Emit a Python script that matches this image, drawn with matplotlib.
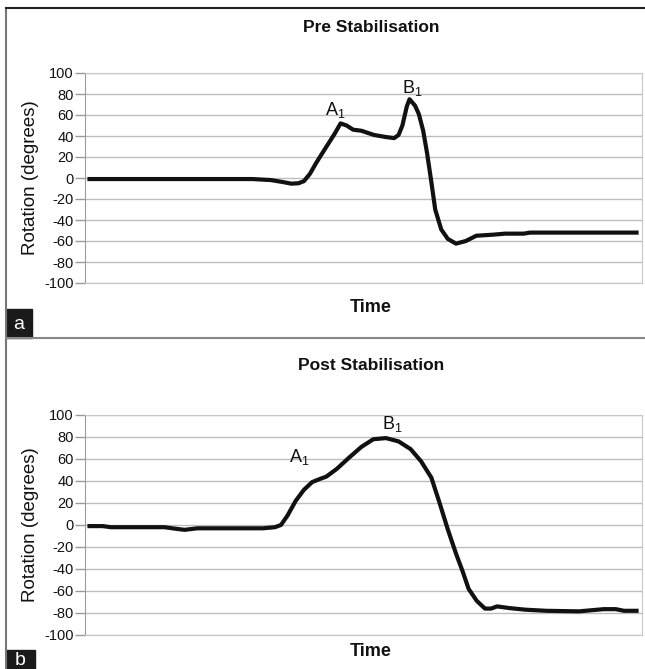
import matplotlib.pyplot as plt
from matplotlib.lines import Line2D
from matplotlib.patches import Rectangle

plt.rcParams['font.family'] = ['Liberation Sans', 'DejaVu Sans']
plt.rcParams['axes.unicode_minus'] = False

# panel a - pre stabilisation
pre_t = [0, 10, 20, 29.8, 33.2, 35.5, 36.9, 38.2, 39.2, 40.3, 41.4, 42.6, 43.7,
         44.8, 45.9, 47.0, 48.2, 49.7, 52.0, 54.2, 55.7, 56.5, 57.2, 58.0, 58.5,
         59.5, 60.2, 61.0, 61.7, 62.5, 63.2, 64.3, 65.5, 67.0, 68.8, 70.7, 73.7,
         76.0, 79.4, 80.5, 90, 100]
pre_v = [-1, -1, -1, -1, -2, -4, -5.4, -5, -3, 4, 14, 24, 33,
         42, 52, 50, 46, 45, 41, 39, 38, 41, 50, 68, 75,
         69, 61, 45, 24, -4, -30, -49, -58, -62.5, -60, -55, -54,
         -53, -53, -52, -52, -52]

# panel b - post stabilisation
post_t = [0, 2.4, 3.9, 13.7, 15.9, 17.4, 19.7, 31.7, 33.9, 35.0, 36.2, 37.7,
          39.2, 40.7, 42.2, 43.3, 45.2, 47.4, 49.7, 51.9, 54.2, 56.5, 58.7,
          60.6, 62.5, 64.0, 65.5, 67.0, 68.2, 69.3, 70.8, 72.3, 73.4, 74.5,
          76.7, 79.7, 83.5, 89.5, 94.0, 96.2, 97.7, 100]
post_v = [-1, -1, -2, -2, -3.5, -4.4, -3, -3, -2, 0, 8.6, 22,
          32, 39, 42, 44, 51, 61, 71, 78, 79, 76, 69,
          58, 43, 20, -4, -26, -42, -58, -69, -76, -76, -74,
          -75.5, -77, -78, -78.5, -76.5, -76.5, -78, -78]

titles = ['Pre Stabilisation', 'Post Stabilisation']
panel_letters = ['a', 'b']
yticks = list(range(-100, 101, 20))
# annotation positions (t, value)
pre_labels = [('A', 45.0, 65), ('B', 59.0, 86)]
post_labels = [('A', 38.4, 61.5), ('B', 55.3, 92)]

W, H = 645, 669
fig = plt.figure(figsize=(W / 100, H / 100), dpi=100)


def fx(px):
    return px / W


def fy(py):
    return 1 - py / H


def draw_panel(top, bottom, t, v, title, labels, title_y, time_y):
    ax = fig.add_axes([fx(85), fy(bottom), fx(642 - 85), (bottom - top) / H])
    ax.plot(t, v, color='#111111', lw=3.0, solid_joinstyle='round')
    ax.set_xlim(-0.82, 101.0)
    ax.set_ylim(-100, 100)
    ax.set_yticks(yticks)
    ax.set_xticks([])
    ax.grid(axis='y', color='#bdbdbd', lw=1.0)
    ax.set_axisbelow(True)
    for s in ['top', 'bottom', 'right']:
        ax.spines[s].set_color('#c8c8c8')
    ax.spines['left'].set_color('#9a9a9a')
    ax.tick_params(axis='y', length=7, width=1, color='#9a9a9a', pad=1,
                   labelsize=10.5, labelcolor='#111111')
    for name, xt, yv in labels:
        ax.text(xt, yv, f'{name}$_\\mathregular{{1}}$', fontsize=13,
                ha='center', va='center', color='#111111')
    fig.text(fx(31), fy((top + bottom) / 2), 'Rotation (degrees)', rotation=90,
             fontsize=13.5, ha='center', va='center', color='#111111')
    fig.text(fx(371), fy(title_y), title, fontsize=12.5, fontweight='bold',
             ha='center', va='center', color='#111111')
    fig.text(fx(371), fy(time_y), 'Time', fontsize=13, fontweight='bold',
             ha='center', va='center', color='#111111')
    return ax


draw_panel(73, 283, pre_t, pre_v, titles[0], pre_labels, 28, 308)
draw_panel(415, 635, post_t, post_v, titles[1], post_labels, 366, 652)

# outer frame lines
fig.add_artist(Line2D([fx(6), fx(6)], [fy(8), 0], color='#777777', lw=1.5))
fig.add_artist(Line2D([fx(6), 1], [fy(8), fy(8)], color='#222222', lw=1.5))
fig.add_artist(Line2D([fx(6), 1], [fy(338), fy(338)], color='#888888', lw=1.5))

# panel letter boxes
for letter, (x0, y0, x1, y1) in zip(panel_letters, [(6, 309, 32, 338), (6, 650, 35, 669)]):
    fig.add_artist(Rectangle((fx(x0), fy(y1)), fx(x1 - x0), (y1 - y0) / H,
                             color='#1a1a1a', transform=fig.transFigure))
    fig.text(fx((x0 + x1) / 2), fy((y0 + y1) / 2 + 1), letter, color='white',
             fontsize=14, ha='center', va='center')

fig.savefig('out.png', dpi=100)
